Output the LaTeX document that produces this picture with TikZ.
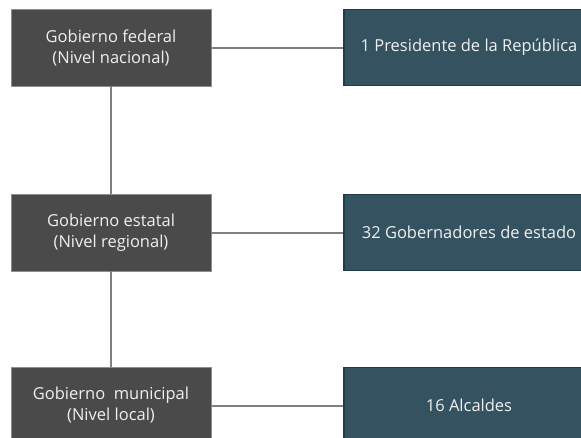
\documentclass[tikz,border=0pt]{standalone}
\usepackage{fontspec}
\setmainfont{Open Sans}
\usepackage{tikz}

\definecolor{nivelgris}{HTML}{4A4A4A}
\definecolor{nivelborde}{HTML}{8E8E8E}
\definecolor{cargoazul}{HTML}{34525F}
\definecolor{cargoborde}{HTML}{1D3B4C}
\definecolor{lineagris}{HTML}{808080}

\begin{document}
\begin{tikzpicture}[x=1pt, y=-1pt,
nivel/.style = {draw=nivelborde, fill=nivelgris, text=white!94!black,
	minimum width=200pt, minimum height=77pt, inner sep=0pt,
	align=center, font=\fontsize{16.5}{21}\selectfont,
	execute at begin node={\rule{0pt}{19.5pt}}},
cargo/.style = {draw=cargoborde, line width=1.2pt, fill=cargoazul, text=white!94!black,
	minimum width=250pt, minimum height=76pt, inner sep=0pt,
	align=center, font=\fontsize{16.5}{21}\selectfont},
enlace/.style = {draw=lineagris, line width=2pt}
]
\useasboundingbox (0, 0) rectangle (581, 437);
\clip (0, 0) rectangle (581, 437);
% niveles de gobierno
\node[nivel] (federal) at (111, 47.5) {Gobierno federal\\(Nivel nacional)};
\node[nivel] (estatal) at (111, 232.5) {Gobierno estatal\\(Nivel regional)};
\node[nivel] (municipal) at (111, 405.5) {Gobierno\ \ municipal\\(Nivel local)};
% cargos
\node[cargo] (presidente) at (469, 47.5) {1 Presidente de la República};
\node[cargo] (gobernadores) at (469, 232.5) {32 Gobernadores de estado};
\node[cargo] (alcaldes) at (469, 405.5) {16 Alcaldes};
% enlaces
\draw[enlace] (federal) -- (presidente);
\draw[enlace] (estatal) -- (gobernadores);
\draw[enlace] (municipal) -- (alcaldes);
\draw[enlace] (federal) -- (estatal);
\draw[enlace] (estatal) -- (municipal);
\end{tikzpicture}
\end{document}
